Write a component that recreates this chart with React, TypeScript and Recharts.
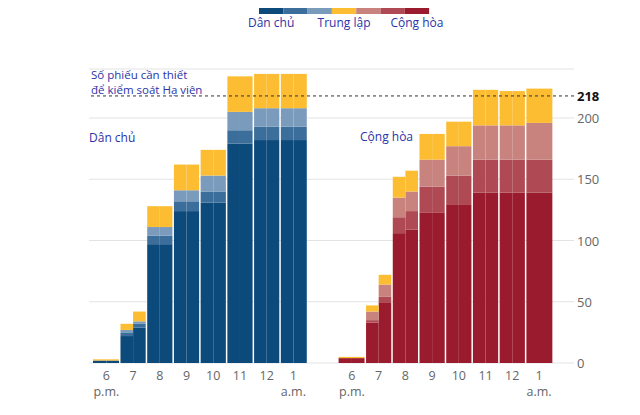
import React from 'react';
import { ComposedChart, Bar, XAxis, YAxis, CartesianGrid, ReferenceLine } from 'recharts';

// ---- data (half-hour steps, 16 per party: 6 p.m. ... 1 a.m.) ----
const hourLabels = ['6', '7', '8', '9', '10', '11', '12', '1'];
const hourSubLabels = ['p.m.', '', '', '', '', '', '', 'a.m.'];
const demCalled = [2, 2, 22, 29, 97, 97, 124, 124, 131, 131, 179, 179, 182, 182, 182, 182];
const demLeaning = [0, 0, 3, 3, 7, 7, 8, 8, 9, 9, 11, 11, 11, 11, 11, 11];
const demTilt = [0, 0, 2, 2, 7, 7, 9, 9, 13, 13, 15, 15, 15, 15, 15, 15];
const demUndecided = [1, 1, 5, 8, 17, 17, 21, 21, 21, 21, 29, 29, 28, 28, 28, 28];
const repCalled = [4, 4, 33, 49, 106, 109, 123, 123, 129, 129, 139, 139, 139, 139, 139, 139];
const repLeaning = [0, 0, 2, 5, 13, 15, 21, 21, 24, 24, 27, 27, 27, 27, 27, 27];
const repTilt = [0, 0, 7, 10, 16, 16, 22, 22, 24, 24, 28, 28, 28, 28, 30, 30];
const repUndecided = [1, 1, 5, 8, 17, 17, 21, 21, 20, 20, 29, 29, 28, 28, 28, 28];
const majority = 218;
const yTicks = [0, 50, 100, 150, 200];
const legendLabels = ['Dân chủ', 'Trung lập', 'Cộng hòa'];
const noteLines = ['Số phiếu cần thiết', 'để kiểm soát Hạ viện'];
const partyLabels = ['Dân chủ', 'Cộng hòa'];

// ---- layout ----
const W = 640;
const H = 415;
const DEM_START = 0;
const REP_START = 9.19;
const BLUE_TEXT = '#2b33a8';
const FONT = '"Open Sans", sans-serif';

const COLORS = {
  demCalled: '#0c4a7c',
  demLeaning: '#3b6e9b',
  demTilt: '#7b9bbd',
  undecided: '#fcbd33',
  repTilt: '#c9837f',
  repLeaning: '#af4a54',
  repCalled: '#9b1b2e',
};
const legendColors = [
  COLORS.demCalled, COLORS.demLeaning, COLORS.demTilt, COLORS.undecided,
  COLORS.repTilt, COLORS.repLeaning, COLORS.repCalled,
];

const rows: any[] = [];
for (let i = 0; i < 16; i++) {
  rows.push({
    x: DEM_START + i * 0.5 + 0.25, half: i % 2, hour: Math.floor(i / 2),
    demCalled: demCalled[i], demLeaning: demLeaning[i], demTilt: demTilt[i],
    repCalled: 0, repLeaning: 0, repTilt: 0, undecided: demUndecided[i],
  });
}
for (let i = 0; i < 16; i++) {
  rows.push({
    x: REP_START + i * 0.5 + 0.25, half: i % 2, hour: Math.floor(i / 2),
    demCalled: 0, demLeaning: 0, demTilt: 0,
    repCalled: repCalled[i], repLeaning: repLeaning[i], repTilt: repTilt[i], undecided: repUndecided[i],
  });
}
const xTicks = [
  ...hourLabels.map((_, h) => DEM_START + h + 0.5),
  ...hourLabels.map((_, h) => REP_START + h + 0.5),
];

const makeShape = (fill: string) => (props: any) => {
  const { x, y, width, height, payload } = props;
  if (!height || Math.abs(height) < 0.01) return <g />;
  const top = Math.min(y, y + height);
  const h = Math.abs(height);
  let l = x;
  let r = x + width;
  if (payload && payload.half === 0 && payload.hour > 0) l += 0.75;
  if (payload && payload.half === 1 && payload.hour < 7) r -= 0.75;
  return <rect x={l} y={top} width={Math.max(0, r - l)} height={h} fill={fill} />;
};

const XTick = (props: any) => {
  const { x, y, index } = props;
  const k = index % 8;
  return (
    <g>
      <text x={x} y={y + 17} textAnchor="middle" fontSize={12.5} fill="#666" fontFamily={FONT}>
        {hourLabels[k]}
      </text>
      {hourSubLabels[k] ? (
        <text x={x} y={y + 33} textAnchor="middle" fontSize={12.5} fill="#666" fontFamily={FONT}>
          {hourSubLabels[k]}
        </text>
      ) : null}
    </g>
  );
};

const YTick = (props: any) => {
  const { x, y, payload } = props;
  return (
    <text x={x} y={y} dy={5} textAnchor="start" fontSize={13} fill="#666" fontFamily={FONT}>
      {payload.value}
    </text>
  );
};

const series: [string, string][] = [
  ['demCalled', COLORS.demCalled],
  ['demLeaning', COLORS.demLeaning],
  ['demTilt', COLORS.demTilt],
  ['repCalled', COLORS.repCalled],
  ['repLeaning', COLORS.repLeaning],
  ['repTilt', COLORS.repTilt],
  ['undecided', COLORS.undecided],
];

export default function App() {
  const blockW = 24.3;
  const legendX = 259;
  return (
    <div style={{ position: 'absolute', left: 0, top: 0, width: W, height: H, background: '#fff' }}>
      <ComposedChart
        width={W}
        height={H}
        data={rows}
        margin={{ top: 69, right: 6, bottom: 0, left: 89 }}
        barCategoryGap={0}
        barGap={0}
      >
        <CartesianGrid vertical={false} stroke="#e3e3e3" />
        <XAxis
          dataKey="x"
          type="number"
          domain={[-0.15, 18]}
          allowDataOverflow
          ticks={xTicks}
          interval={0}
          axisLine={false}
          tickLine={false}
          tickSize={0}
          tickMargin={0}
          height={52}
          tick={<XTick />}
        />
        <YAxis
          orientation="right"
          type="number"
          domain={[0, 240]}
          ticks={yTicks}
          interval={0}
          axisLine={false}
          tickLine={false}
          tickSize={0}
          tickMargin={3}
          width={60}
          tick={<YTick />}
        />
        {series.map(([key, color]) => (
          <Bar
            key={key}
            dataKey={key}
            stackId="all"
            barSize={13.36}
            fill={color}
            isAnimationActive={false}
            shape={makeShape(color)}
          />
        ))}
        <ReferenceLine
          y={majority}
          stroke="#333"
          strokeDasharray="3 3"
          strokeWidth={1}
          label={{ value: String(majority), position: 'right', offset: 3, fill: '#111', fontWeight: 'bold', fontSize: 13, fontFamily: FONT }}
        />
      </ComposedChart>
      <svg width={W} height={H} style={{ position: 'absolute', left: 0, top: 0, pointerEvents: 'none' }}>
        {legendColors.map((c, i) => (
          <rect key={i} x={legendX + i * blockW} y={8} width={blockW} height={6} fill={c} />
        ))}
        {legendLabels.map((t, i) => (
          <text
            key={t}
            x={legendX + [0, 3, 6][i] * blockW + blockW / 2}
            y={27}
            textAnchor="middle"
            fontSize={12}
            fill={BLUE_TEXT}
            fontFamily={FONT}
          >
            {t}
          </text>
        ))}
        {noteLines.map((t, i) => (
          <text key={t} x={91} y={79 + i * 15} fontSize={11.5} fill={BLUE_TEXT} fontFamily={FONT}>
            {t}
          </text>
        ))}
        <text x={89} y={142} fontSize={12} fill={BLUE_TEXT} fontFamily={FONT}>{partyLabels[0]}</text>
        <text x={360} y={141} fontSize={12} fill={BLUE_TEXT} fontFamily={FONT}>{partyLabels[1]}</text>
      </svg>
    </div>
  );
}
